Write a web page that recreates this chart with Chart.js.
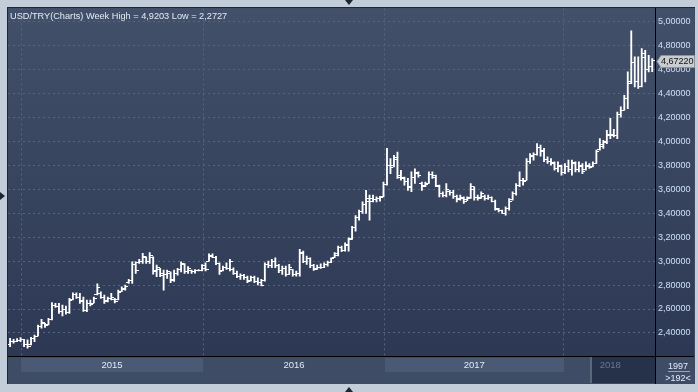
<!DOCTYPE html>
<html><head><meta charset="utf-8">
<script src="https://cdn.jsdelivr.net/npm/chart.js@4.4.1/dist/chart.umd.min.js"></script>
<style>html,body{margin:0;padding:0;background:#c3cdda;overflow:hidden}#wrap{width:698px;height:392px;position:relative}canvas{display:block}</style>
</head><body><div id="wrap"><canvas id="c" width="698" height="392"></canvas></div>
<script>
// Weekly USD/TRY bars (index 0 = first week shown, Dec 2014)
const highs=[2.356,2.347,2.353,2.361,2.347,2.342,2.364,2.383,2.467,2.514,
2.48,2.522,2.653,2.647,2.647,2.633,2.625,2.69,2.736,2.736,
2.73,2.70,2.675,2.675,2.70,2.81,2.744,2.717,2.70,2.73,
2.69,2.758,2.786,2.80,2.847,2.994,2.994,3.014,3.064,3.036,
3.07,3.036,2.967,2.94,2.925,2.925,2.91,2.925,2.94,2.994,
2.98,2.953,2.925,2.93,2.93,2.97,2.986,3.06,3.06,3.04,
2.986,2.958,2.986,3.014,2.944,2.917,2.894,2.889,2.875,2.875,
2.875,2.861,2.847,2.986,3.0,3.014,3.028,2.972,2.958,2.958,
2.972,2.93,2.917,3.097,3.083,3.042,3.028,2.972,2.967,2.978,
2.986,3.0,3.028,3.07,3.125,3.125,3.153,3.194,3.29,3.38,
3.425,3.494,3.59,3.55,3.55,3.536,3.54,3.66,3.94,3.855,
3.883,3.91,3.758,3.70,3.69,3.744,3.77,3.744,3.66,3.66,
3.744,3.744,3.717,3.633,3.578,3.647,3.59,3.59,3.55,3.55,
3.536,3.536,3.647,3.62,3.55,3.578,3.55,3.55,3.536,3.508,
3.44,3.425,3.453,3.522,3.578,3.647,3.744,3.69,3.855,3.897,
3.903,3.98,3.967,3.94,3.87,3.856,3.828,3.828,3.80,3.814,
3.842,3.842,3.828,3.828,3.814,3.828,3.814,3.828,3.925,4.022,
4.008,4.09,4.19,4.10,4.244,4.286,4.383,4.578,4.9203,4.703,
4.703,4.772,4.758,4.717,4.69];
const lows=[2.286,2.314,2.328,2.328,2.286,2.2727,2.30,2.328,2.375,2.44,
2.447,2.467,2.508,2.614,2.564,2.542,2.558,2.564,2.675,2.689,
2.647,2.58,2.578,2.625,2.65,2.717,2.689,2.647,2.66,2.675,
2.65,2.675,2.744,2.758,2.814,2.814,2.897,2.98,2.98,2.98,
2.98,2.89,2.87,2.87,2.758,2.855,2.82,2.83,2.883,2.91,
2.897,2.897,2.897,2.90,2.917,2.917,2.917,3.0,3.028,2.97,
2.889,2.917,2.93,2.917,2.889,2.861,2.847,2.847,2.82,2.833,
2.82,2.80,2.792,2.833,2.944,2.944,2.944,2.903,2.889,2.875,
2.889,2.875,2.875,2.875,2.986,2.972,2.944,2.922,2.93,2.939,
2.944,2.958,2.986,3.028,3.042,3.078,3.083,3.083,3.18,3.25,
3.342,3.397,3.397,3.342,3.494,3.494,3.50,3.536,3.633,3.73,
3.786,3.69,3.675,3.633,3.59,3.578,3.647,3.70,3.59,3.62,
3.647,3.69,3.62,3.536,3.536,3.536,3.55,3.522,3.494,3.508,
3.48,3.503,3.522,3.508,3.508,3.522,3.508,3.514,3.494,3.425,
3.41,3.397,3.383,3.425,3.508,3.55,3.62,3.633,3.675,3.814,
3.842,3.883,3.875,3.83,3.814,3.80,3.758,3.744,3.717,3.73,
3.744,3.717,3.744,3.744,3.73,3.758,3.772,3.786,3.814,3.925,
3.94,3.98,4.022,4.036,4.022,4.20,4.258,4.272,4.48,4.453,
4.44,4.453,4.494,4.578,4.58];
const opens=[2.30,2.33,2.33,2.34,2.345,2.30,2.30,2.35,2.37,2.45,
2.475,2.47,2.51,2.63,2.62,2.58,2.60,2.57,2.68,2.72,
2.70,2.67,2.59,2.65,2.65,2.72,2.73,2.70,2.67,2.69,
2.68,2.68,2.75,2.76,2.82,2.84,2.97,2.99,3.00,3.03,
3.00,3.03,2.92,2.93,2.90,2.89,2.90,2.85,2.90,2.93,
2.97,2.91,2.92,2.91,2.92,2.925,2.94,3.0,3.04,3.03,
2.98,2.92,2.95,2.94,2.93,2.90,2.87,2.88,2.86,2.84,
2.86,2.83,2.82,2.84,2.97,2.96,3.00,2.96,2.92,2.94,
2.89,2.93,2.89,2.90,3.06,3.00,3.02,2.96,2.94,2.95,
2.95,2.97,2.99,3.03,3.05,3.11,3.09,3.13,3.19,3.28,
3.36,3.41,3.47,3.50,3.52,3.51,3.52,3.54,3.64,3.80,
3.80,3.86,3.71,3.69,3.66,3.61,3.70,3.73,3.65,3.63,
3.65,3.72,3.70,3.62,3.56,3.55,3.58,3.57,3.54,3.52,
3.52,3.51,3.53,3.60,3.53,3.53,3.54,3.52,3.53,3.50,
3.43,3.42,3.40,3.44,3.51,3.56,3.63,3.67,3.67,3.83,
3.87,3.89,3.95,3.91,3.85,3.83,3.81,3.77,3.79,3.74,
3.79,3.76,3.81,3.76,3.79,3.76,3.79,3.79,3.81,3.93,
3.96,4.00,4.05,4.06,4.05,4.22,4.26,4.36,4.50,4.66,
4.50,4.46,4.70,4.60,4.62];
const closes=[2.33,2.325,2.34,2.345,2.30,2.29,2.35,2.37,2.45,2.49,
2.46,2.51,2.63,2.62,2.58,2.60,2.57,2.67,2.72,2.70,
2.66,2.59,2.65,2.64,2.69,2.78,2.70,2.66,2.69,2.70,
2.66,2.74,2.77,2.79,2.84,2.97,2.92,3.00,3.04,3.00,
3.05,2.91,2.95,2.88,2.89,2.91,2.84,2.90,2.93,2.98,
2.91,2.94,2.91,2.92,2.925,2.96,2.93,3.05,3.03,2.98,
2.91,2.95,2.94,3.00,2.90,2.87,2.88,2.86,2.83,2.86,
2.83,2.82,2.80,2.97,2.96,3.00,2.96,2.92,2.94,2.89,
2.95,2.89,2.90,3.07,3.00,3.02,2.96,2.93,2.95,2.95,
2.97,2.99,3.02,3.06,3.11,3.09,3.14,3.18,3.28,3.36,
3.41,3.47,3.52,3.50,3.51,3.52,3.53,3.64,3.80,3.78,
3.85,3.70,3.70,3.66,3.62,3.70,3.74,3.71,3.62,3.64,
3.72,3.71,3.63,3.56,3.55,3.60,3.57,3.54,3.51,3.53,
3.50,3.52,3.62,3.53,3.52,3.56,3.52,3.53,3.50,3.44,
3.42,3.40,3.44,3.50,3.56,3.63,3.67,3.66,3.83,3.88,
3.89,3.95,3.92,3.85,3.83,3.82,3.77,3.80,3.74,3.79,
3.76,3.82,3.76,3.80,3.75,3.80,3.78,3.81,3.91,3.97,
3.99,4.06,4.05,4.05,4.22,4.26,4.36,4.48,4.66,4.50,
4.46,4.73,4.60,4.62,4.6722];
// Year boundaries & label centres on the bar-index axis
const yearBounds=[3.15,55.3,107.4,158.7];
const yearLabels=['2015','2016','2017','2018'];
const yearLabelPos=[29.2,81.35,133.0,172.0];
const yTickValues=[2.4,2.6,2.8,3.0,3.2,3.4,3.6,3.8,4.0,4.2,4.4,4.6,4.8,5.0];
const titleText='USD/TRY(Charts) Week High = 4,9203 Low = 2,2727';
const lastPrice=closes[closes.length-1];

const fmt=v=>v.toFixed(5).replace('.',',');
const FONT='"Liberation Sans", Arial, sans-serif';

function tickImg(side){
  const c=document.createElement('canvas');c.width=6;c.height=1;
  const g=c.getContext('2d');g.fillStyle='#ffffff';
  if(side==='open')g.fillRect(0,0,3,1);else g.fillRect(3,0,3,1);
  return c;
}
const openImg=tickImg('open'), closeImg=tickImg('close');

const xTicks=[];
yearBounds.forEach((b,k)=>{xTicks.push({value:b,label:''});xTicks.push({value:yearLabelPos[k],label:yearLabels[k]});});
xTicks.sort((a,b)=>a.value-b.value);

const bgPlugin={
  id:'bg',
  beforeDraw(chart){
    const ctx=chart.ctx, a=chart.chartArea, xs=chart.scales.x;
    ctx.save();
    ctx.fillStyle='#c3cdda';ctx.fillRect(0,0,698,392);
    ctx.fillStyle='#3c4a64';ctx.fillRect(7,7,688,377);
    ctx.fillStyle='#1f2739';ctx.fillRect(7,7,688,1);ctx.fillRect(7,7,1,377);
    const g=ctx.createLinearGradient(0,a.top,0,a.bottom);
    g.addColorStop(0,'#435069');g.addColorStop(1,'#2d3954');
    ctx.fillStyle=g;ctx.fillRect(a.left,a.top,694-a.left,a.bottom-a.top);
    ctx.fillStyle='#3e4c66';ctx.fillRect(a.left,a.bottom,694-a.left,27);
    ctx.fillStyle='#4b5a74';
    [[0,1],[2,3]].forEach(([s,e])=>{
      const x1=xs.getPixelForValue(yearBounds[s]), x2=xs.getPixelForValue(yearBounds[e]);
      ctx.fillRect(x1,a.bottom+2,x2-x1,14);
    });
    ctx.fillStyle='#26324a';ctx.fillRect(592,a.bottom+1,a.right-592,26);
    ctx.fillStyle='#5c677b';ctx.fillRect(590,a.bottom+1,2,26);
    ctx.restore();
  },
  afterDraw(chart){
    const ctx=chart.ctx, a=chart.chartArea, ys=chart.scales.y;
    ctx.save();
    ctx.fillStyle='#000';
    ctx.fillRect(a.right,a.top,1,384-a.top);
    ctx.fillRect(a.left,a.bottom,694-a.left,1);
    ctx.font='9.2px '+FONT;ctx.fillStyle='#e4ebf6';ctx.textBaseline='alphabetic';ctx.textAlign='left';
    ctx.fillText(titleText,10,18.5);
    const py=Math.round(ys.getPixelForValue(lastPrice));
    ctx.fillStyle='#c9cdd2';ctx.strokeStyle='#8e949c';ctx.lineWidth=1;
    ctx.beginPath();ctx.moveTo(657,py+0.5);ctx.lineTo(661,py-5.5);ctx.lineTo(694.5,py-5.5);ctx.lineTo(694.5,py+6.5);ctx.lineTo(661,py+6.5);ctx.closePath();
    ctx.fill();ctx.stroke();
    ctx.fillStyle='#111';ctx.font='9px '+FONT;ctx.textBaseline='middle';
    ctx.fillText(fmt(lastPrice),661,py+1);
    ctx.textAlign='center';ctx.fillStyle='#e4ebf6';ctx.textBaseline='alphabetic';
    ctx.fillText('1997',678,368.5);
    ctx.fillStyle='#9aa6b8';ctx.fillRect(668,371,22,1);
    ctx.fillStyle='#e4ebf6';
    ctx.fillText('>192<',678,381);
    ctx.fillStyle='#1d2434';
    ctx.beginPath();ctx.moveTo(345,0);ctx.lineTo(353,0);ctx.lineTo(349,5);ctx.closePath();ctx.fill();
    ctx.beginPath();ctx.moveTo(345,392);ctx.lineTo(353,392);ctx.lineTo(349,387);ctx.closePath();ctx.fill();
    ctx.beginPath();ctx.moveTo(0,192);ctx.lineTo(0,200);ctx.lineTo(5,196);ctx.closePath();ctx.fill();
    ctx.restore();
  }
};

new Chart(document.getElementById('c'),{
  type:'bar',
  data:{datasets:[
    {type:'bar',label:'High-Low',data:highs.map((h,i)=>({x:i,y:[lows[i],h]})),backgroundColor:'#ffffff',barThickness:1.2,grouped:false,order:2},
    {type:'scatter',label:'Open',data:opens.map((o,i)=>({x:i,y:o})),pointStyle:openImg,radius:2,order:1},
    {type:'scatter',label:'Close',data:closes.map((c,i)=>({x:i,y:c})),pointStyle:closeImg,radius:2,order:1}
  ]},
  options:{
    responsive:false,animation:false,events:[],
    layout:{padding:{left:8,top:8,right:4,bottom:9}},
    plugins:{legend:{display:false},tooltip:{enabled:false},title:{display:false}},
    scales:{
      x:{type:'linear',min:-0.6,max:184.8,position:'bottom',offset:false,
        afterBuildTicks(s){s.ticks=xTicks.map(t=>({value:t.value,label:t.label}));},
        afterFit(s){s.height=27;},
        grid:{offset:false,color:c=>(c.tick&&c.tick.label==='')?'#56647e':'rgba(0,0,0,0)',drawTicks:false,lineWidth:1},
        border:{display:true,color:'#000',width:1,dash:[2,3]},
        ticks:{autoSkip:false,maxRotation:0,padding:4,font:{family:FONT,size:9.5},
          color:c=>(c.tick&&c.tick.label==='2018')?'#6a7890':'#e2e9f4',
          callback(v,i){return xTicks[i]?xTicks[i].label:'';}}
      },
      y:{type:'linear',position:'right',min:2.208,max:5.108,
        afterBuildTicks(s){s.ticks=yTickValues.map(v=>({value:v}));},
        afterFit(s){s.width=39;},
        grid:{offset:false,color:'#56647e',drawTicks:false,lineWidth:1},
        border:{display:true,color:'#000',width:1,dash:[2,3]},
        ticks:{padding:3,font:{family:FONT,size:9},color:'#cfe0f5',callback:v=>fmt(v)}
      }
    }
  },
  plugins:[bgPlugin]
});
</script></body></html>
